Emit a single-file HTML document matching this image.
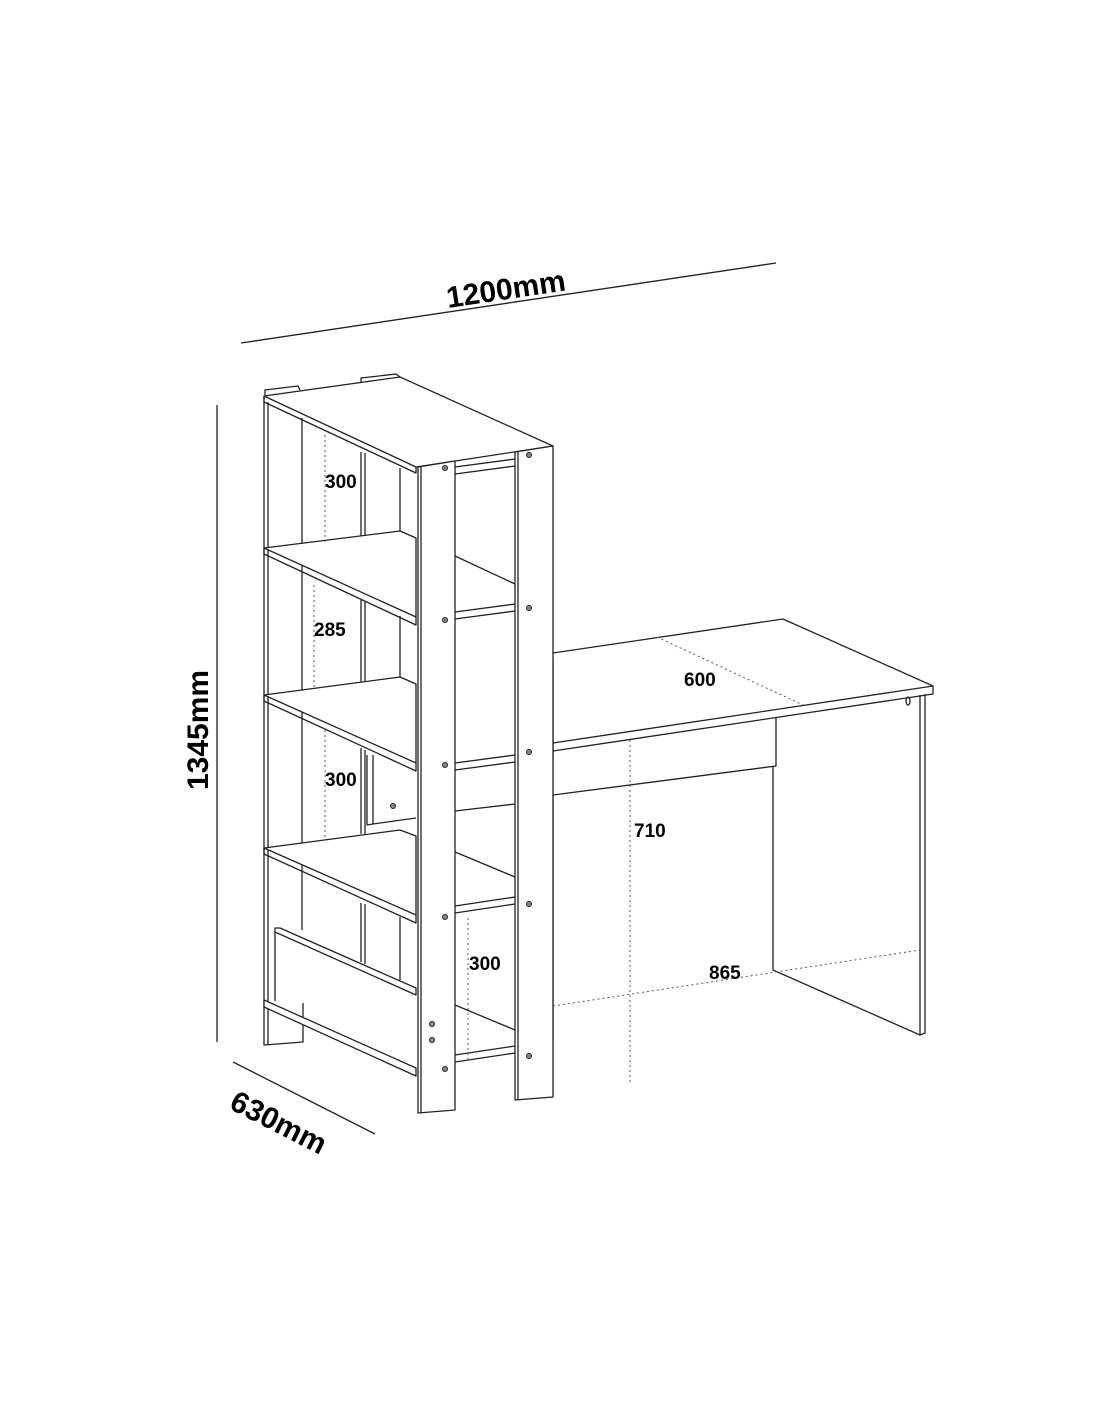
<!DOCTYPE html>
<html><head><meta charset="utf-8"><style>
html,body{margin:0;padding:0;background:#fff;}
svg{display:block}
text{font-family:"Liberation Sans",sans-serif;font-weight:bold;fill:#000}
</style></head><body>
<svg width="1100" height="1422" viewBox="0 0 1100 1422" xmlns="http://www.w3.org/2000/svg">
<g stroke="#222" stroke-width="1.3" fill="none" stroke-linejoin="round">
<line x1="241" y1="343" x2="776" y2="263"/>
<line x1="217" y1="405" x2="217" y2="1042"/>
<line x1="233" y1="1062" x2="375" y2="1134"/>

<path d="M553,653 L783,619 L933,686 L933,694 L553,751" fill="#fff"/>
<line x1="553" y1="743" x2="933" y2="686"/>
<path d="M553,795 L776,766 L776,717"/>
<path d="M920,695 L920,1035 L925,1033 L925,694"/>
<path d="M773,766 L773,970 L920,1035"/>
<ellipse cx="908" cy="701" rx="2" ry="4"/>

<path d="M264,396 L264,1045 L303,1042 L303,1003"/>
<line x1="268" y1="402" x2="268" y2="1045"/>
<line x1="302" y1="418" x2="302" y2="548"/>
<line x1="302" y1="565" x2="302" y2="695"/>
<line x1="302" y1="712" x2="302" y2="848"/>
<line x1="302" y1="865" x2="302" y2="930"/>
<line x1="361" y1="452" x2="361" y2="538"/>
<line x1="365" y1="453" x2="365" y2="538"/>
<line x1="361" y1="600" x2="361" y2="685"/>
<line x1="365" y1="602" x2="365" y2="685"/>
<line x1="361" y1="748" x2="361" y2="834"/>
<line x1="365" y1="750" x2="365" y2="834"/>
<line x1="361" y1="903" x2="361" y2="962"/>
<line x1="365" y1="904" x2="365" y2="964"/>
<line x1="400" y1="468" x2="400" y2="533"/>
<line x1="400" y1="616" x2="400" y2="680"/>
<line x1="400" y1="917" x2="400" y2="980"/>

<path d="M264,396 L400,377 L553,446 L416,467 Z" fill="#fff"/>
<path d="M264,396 L264,402 L416,473 L416,467"/>
<path d="M265,395 L265,390 L298,386 L300,390"/>
<path d="M361,383 L361,378 L396,374 L400,377"/>

<g fill="#fff">
<path d="M264,548 L400,531 L416,538 L416,617 Z"/>
<path d="M264,695 L400,677 L416,684 L416,763 Z"/>
<path d="M264,848 L400,830 L416,836 L416,915 Z"/>
</g>
<path d="M264,548 L264,554 L416,625 L416,617"/>
<path d="M264,695 L264,701 L416,771 L416,763"/>
<path d="M264,848 L264,854 L416,923 L416,915"/>
<path d="M275,1001 L275,928 L280,928 L416,988 L416,995 L275,932" fill="#fff"/>
<path d="M264,1000 L264,1007 L416,1076 L416,1068 L264,1000" fill="#fff"/>
<path d="M367,755 L367,825 L373,824 L373,755 M373,824 L416,818"/>
<path d="M455,467 L515,459 M455,474 L515,466"/>
<path d="M455,612 L515,604 M455,619 L515,611"/>
<path d="M455,556 L515,584"/>
<path d="M455,763 L515,755 M455,770 L515,762"/>
<path d="M455,811 L515,804"/>
<path d="M455,906 L515,897 M455,913 L515,904"/>
<path d="M455,852 L515,877"/>
<path d="M455,1055 L515,1046 M455,1062 L515,1053"/>
<path d="M455,1005 L515,1030"/>
<path d="M553,660 L553,760 M553,795 L553,1040"/>
<path d="M418,467 L418,1113 L455,1110 L455,461 Z" fill="#fff"/>
<line x1="421" y1="467" x2="421" y2="1113"/>
<path d="M515,452 L515,1100 L553,1097 L553,446 Z" fill="#fff"/>
<line x1="518" y1="452" x2="518" y2="1100"/>
</g>
<g fill="#888" stroke="#222" stroke-width="1">
<circle cx="445" cy="468" r="2.5"/><circle cx="529" cy="455" r="2.5"/>
<circle cx="445" cy="620" r="2.5"/><circle cx="529" cy="608" r="2.5"/>
<circle cx="445" cy="765" r="2.5"/><circle cx="529" cy="752" r="2.5"/>
<circle cx="445" cy="917" r="2.5"/><circle cx="529" cy="904" r="2.5"/>
<circle cx="445" cy="1069" r="2.5"/><circle cx="529" cy="1056" r="2.5"/>
<circle cx="432" cy="1024" r="2.5"/><circle cx="432" cy="1040" r="2.5"/>
<circle cx="393" cy="806" r="2.5"/>
</g>
<g stroke="#555" stroke-width="1" stroke-dasharray="2,3" fill="none">
<line x1="325" y1="435" x2="325" y2="545"/>
<line x1="314" y1="585" x2="314" y2="690"/>
<line x1="325" y1="730" x2="325" y2="838"/>
<line x1="468" y1="918" x2="468" y2="1060"/>
<line x1="657" y1="637" x2="803" y2="705"/>
<line x1="630" y1="740" x2="630" y2="1082"/>
<line x1="553" y1="1006" x2="920" y2="950"/>
</g>
<g font-size="19">
<text x="325" y="488">300</text>
<text x="314" y="636">285</text>
<text x="325" y="786">300</text>
<text x="469" y="970">300</text>
<text x="684" y="686">600</text>
<text x="634" y="837">710</text>
<text x="709" y="979">865</text>
</g>
<text font-size="30" transform="translate(448,308) rotate(-8.5)">1200mm</text>
<text font-size="30" transform="translate(208,790) rotate(-90)">1345mm</text>
<text font-size="30" transform="translate(228,1108) rotate(27)">630mm</text>
</svg>
</body></html>
